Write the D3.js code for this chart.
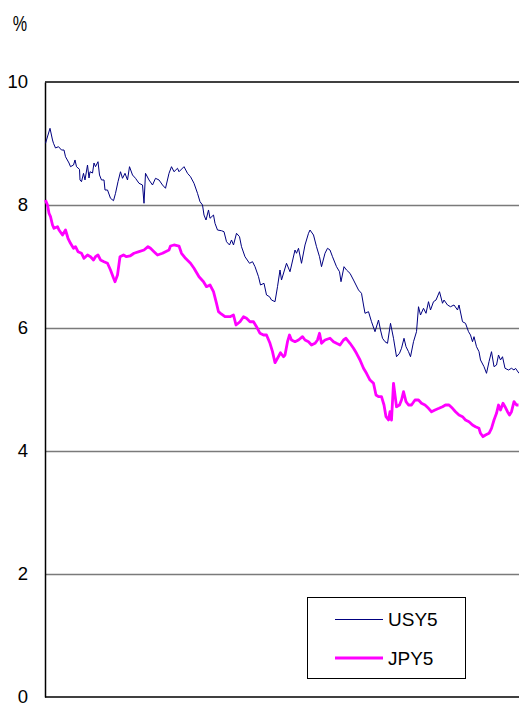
<!DOCTYPE html>
<html>
<head>
<meta charset="utf-8">
<script src="https://cdn.jsdelivr.net/npm/d3@7/dist/d3.min.js"></script>
<style>
  html, body { margin: 0; padding: 0; background: #ffffff; }
  svg { display: block; }
  text { font-family: "Liberation Sans", Arial, sans-serif; fill: #000; }
</style>
</head>
<body>
<svg id="chart" width="519" height="706"></svg>
<script>
// 5-year yields (%), observations indexed by trading day
const usy5 = [
  [1,9.003],[10,9.247],[15,9.057],[17,9.003],[21,8.927],[27,8.948],[33,8.894],[38,8.894],
  [41,8.785],[48,8.683],[51,8.623],[57,8.650],[60,8.732],[63,8.623],[69,8.580],[70,8.407],
  [73,8.379],[77,8.515],[80,8.407],[85,8.650],[88,8.439],[90,8.541],[95,8.520],[98,8.683],
  [101,8.623],[106,8.704],[109,8.488],[113,8.407],[118,8.407],[120,8.244],[125,8.244],[131,8.109],
  [137,8.070],[141,8.190],[146,8.379],[151,8.541],[155,8.434],[160,8.515],[165,8.407],[169,8.623],
  [175,8.488],[181,8.434],[188,8.353],[195,8.325],[198,8.028],[201,8.515],[208,8.407],[215,8.325],
  [221,8.434],[228,8.407],[235,8.325],[241,8.272],[248,8.515],[253,8.623],[258,8.541],[265,8.597],
  [268,8.541],[278,8.623],[285,8.515],[291,8.460],[298,8.353],[305,8.190],[310,8.054],[315,8.000],
  [318,7.837],[322,7.756],[327,7.919],[330,7.784],[337,7.837],[340,7.702],[345,7.593],[353,7.582],
  [358,7.566],[363,7.403],[369,7.350],[373,7.431],[377,7.350],[383,7.540],[389,7.485],[393,7.322],
  [400,7.159],[409,7.052],[415,7.078],[420,6.997],[427,6.834],[431,6.699],[438,6.727],[443,6.537],
  [449,6.509],[453,6.455],[460,6.428],[465,6.672],[470,6.943],[473,6.780],[483,7.052],[490,6.915],
  [500,7.268],[503,7.215],[507,7.296],[513,7.052],[520,7.350],[527,7.540],[530,7.593],[537,7.512],
  [543,7.322],[549,7.159],[553,6.997],[560,7.215],[565,7.296],[570,7.268],[575,7.159],[583,6.997],
  [589,6.915],[592,6.753],[598,6.997],[603,6.943],[610,6.889],[617,6.780],[622,6.699],[627,6.618],
  [633,6.564],[637,6.374],[640,6.239],[647,6.265],[653,6.102],[660,5.940],[667,6.130],[671,5.967],
  [675,5.833],[680,5.777],[685,5.751],[691,6.076],[697,5.833],[703,5.533],[709,5.589],[713,5.670],
  [718,5.833],[722,5.696],[727,5.615],[731,5.533],[737,5.777],[743,5.940],[747,6.346],[751,6.211],
  [757,6.320],[762,6.239],[767,6.428],[771,6.293],[777,6.428],[782,6.455],[789,6.590],[795,6.402],
  [798,6.455],[805,6.374],[811,6.346],[818,6.374],[825,6.293],[828,6.374],[835,6.102],[841,6.076],
  [847,5.940],[851,5.886],[855,5.777],[858,5.859],[863,5.696],[868,5.615],[871,5.480],[878,5.371],
  [883,5.263],[888,5.452],[893,5.615],[898,5.371],[903,5.398],[907,5.561],[911,5.480],[915,5.533],
  [920,5.345],[927,5.317],[933,5.345],[938,5.317],[941,5.345],[948,5.263]
];

const jpy5 = [
  [1,8.081],[5,8.000],[8,7.865],[11,7.810],[15,7.675],[18,7.621],[25,7.648],[28,7.593],
  [35,7.512],[41,7.593],[46,7.459],[51,7.377],[57,7.296],[61,7.322],[66,7.241],[73,7.215],
  [78,7.133],[85,7.187],[91,7.159],[97,7.106],[101,7.159],[106,7.187],[111,7.106],[118,7.078],
  [125,7.052],[131,6.943],[137,6.813],[140,6.753],[145,6.862],[150,7.159],[157,7.187],[163,7.159],
  [170,7.171],[178,7.215],[188,7.241],[198,7.268],[206,7.322],[211,7.296],[218,7.241],[225,7.187],
  [235,7.215],[241,7.241],[248,7.268],[251,7.333],[258,7.350],[268,7.333],[273,7.215],[281,7.133],
  [291,7.052],[298,6.971],[308,6.834],[317,6.753],[323,6.672],[330,6.699],[337,6.590],[343,6.402],
  [347,6.265],[351,6.239],[360,6.184],[370,6.184],[377,6.211],[382,6.049],[390,6.102],[397,6.184],
  [403,6.158],[410,6.102],[417,6.102],[423,6.021],[430,5.914],[437,5.886],[443,5.886],[450,5.751],
  [455,5.615],[460,5.436],[465,5.507],[471,5.598],[477,5.533],[480,5.561],[485,5.777],[489,5.886],
  [493,5.805],[500,5.777],[507,5.805],[515,5.859],[520,5.805],[527,5.777],[533,5.724],[540,5.751],
  [545,5.805],[549,5.914],[553,5.751],[560,5.805],[570,5.833],[577,5.777],[583,5.751],[590,5.724],
  [597,5.805],[602,5.833],[610,5.751],[617,5.670],[623,5.589],[630,5.480],[637,5.345],[643,5.263],
  [650,5.154],[657,5.101],[662,4.911],[667,4.883],[673,4.883],[678,4.748],[682,4.558],[687,4.504],
  [690,4.639],[693,4.504],[697,5.101],[700,4.911],[703,4.720],[709,4.748],[713,4.829],[717,4.964],
  [722,4.802],[727,4.748],[733,4.748],[740,4.829],[747,4.829],[753,4.776],[760,4.748],[767,4.694],
  [773,4.639],[780,4.667],[788,4.694],[795,4.720],[801,4.748],[808,4.748],[815,4.694],[821,4.639],
  [828,4.585],[835,4.558],[841,4.504],[848,4.477],[855,4.423],[861,4.395],[868,4.369],[871,4.288],
  [876,4.233],[881,4.260],[888,4.288],[893,4.369],[898,4.504],[903,4.613],[907,4.748],[911,4.667],
  [916,4.776],[920,4.720],[925,4.639],[929,4.585],[933,4.639],[938,4.802],[943,4.748],[947,4.748]
];

const yTicks = [0, 2, 4, 6, 8, 10];
const seriesNames = ["USY5", "JPY5"];
const unitLabel = "%";

const svg = d3.select("#chart");
const margin = { left: 45, right: 0, top: 82, bottom: 9 };
const W = 519, H = 706;

const x = d3.scaleLinear().domain([0, 948]).range([margin.left, W - margin.right]);
const y = d3.scaleLinear().domain([0, 10]).range([H - margin.bottom, margin.top]);

// horizontal gridlines (top one forms the frame edge)
const grid = svg.append("g")
  .attr("transform", `translate(${margin.left},0)`)
  .call(d3.axisLeft(y).tickValues(yTicks.filter(v => v > 0 && v < 10))
    .tickSize(-(W - margin.left - margin.right)).tickFormat(""));
grid.select(".domain").remove();
grid.selectAll(".tick line").attr("stroke", "#7a7a7a").attr("stroke-width", 1.3);

svg.append("line")
  .attr("x1", margin.left).attr("x2", W)
  .attr("y1", y(10)).attr("y2", y(10))
  .attr("stroke", "#000").attr("stroke-width", 1.5);

// y axis labels
const yAxis = svg.append("g")
  .attr("transform", `translate(${margin.left},0)`)
  .call(d3.axisLeft(y).tickValues(yTicks).tickSize(0).tickPadding(17).tickFormat(d3.format("d")));
yAxis.select(".domain").attr("stroke", "#000").attr("stroke-width", 1.5);
yAxis.selectAll("text")
  .attr("font-size", 18.5)
  .attr("font-family", "'Liberation Sans', Arial, sans-serif")
  .attr("fill", "#000");

// bottom axis line
svg.append("line")
  .attr("x1", margin.left).attr("x2", W)
  .attr("y1", y(0)).attr("y2", y(0))
  .attr("stroke", "#000").attr("stroke-width", 1.5);

// unit label, drawn slightly tall and narrow
svg.append("text")
  .attr("transform", "translate(20,31) scale(0.85,1.2)")
  .attr("text-anchor", "middle")
  .attr("font-size", 19)
  .text(unitLabel);

const line = d3.line().x(d => x(d[0])).y(d => y(d[1]));

svg.append("path").datum(usy5)
  .attr("fill", "none").attr("stroke", "#000080").attr("stroke-width", 1)
  .attr("stroke-linejoin", "round")
  .attr("d", line);

svg.append("path").datum(jpy5)
  .attr("fill", "none").attr("stroke", "#ff00ff").attr("stroke-width", 2.8)
  .attr("stroke-linejoin", "round")
  .attr("d", line);

// legend
const legend = svg.append("g");
legend.append("rect")
  .attr("x", 307.5).attr("y", 597.5).attr("width", 158).attr("height", 81)
  .attr("fill", "#fff").attr("stroke", "#000").attr("stroke-width", 1);

const legendItems = [
  { name: seriesNames[0], color: "#000080", width: 1, cy: 619.5 },
  { name: seriesNames[1], color: "#ff00ff", width: 3, cy: 658 }
];
legendItems.forEach(it => {
  legend.append("line")
    .attr("x1", 335).attr("x2", 383)
    .attr("y1", it.cy).attr("y2", it.cy)
    .attr("stroke", it.color).attr("stroke-width", it.width);
  legend.append("text")
    .attr("x", 388).attr("y", it.cy)
    .attr("dy", "0.36em")
    .attr("font-size", 19)
    .text(it.name);
});
</script>
</body>
</html>
